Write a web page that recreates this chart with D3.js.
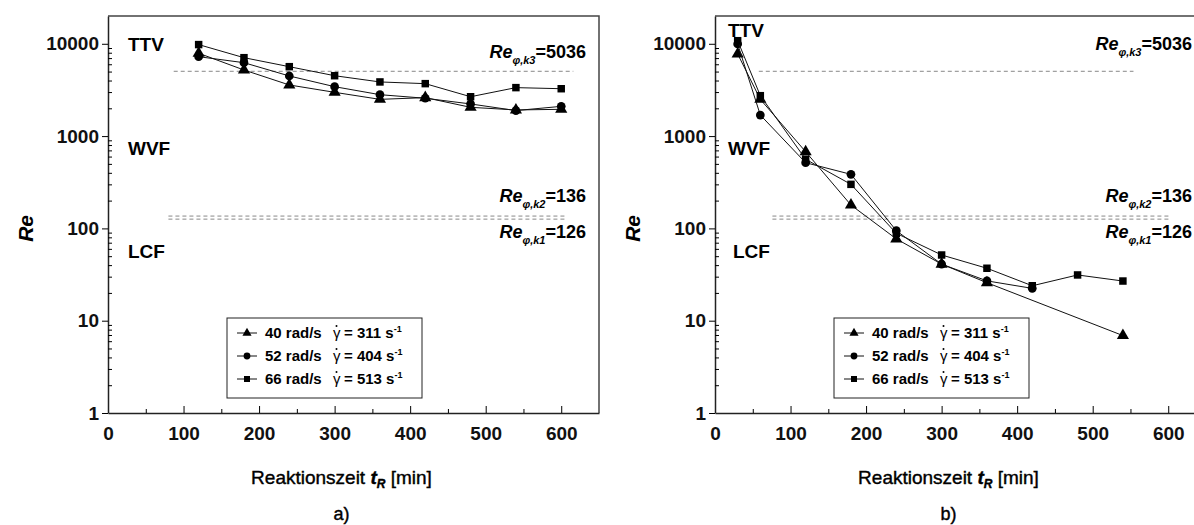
<!DOCTYPE html>
<html>
<head>
<meta charset="utf-8">
<script src="https://cdn.jsdelivr.net/npm/d3@7"></script>
<style>
  body { margin: 0; background: #fff; }
  svg { display: block; font-family: "Liberation Sans", Arial, sans-serif; }
</style>
</head>
<body>
<svg id="chart" width="1194" height="525"></svg>
<script>
// panel a) data
const timeA = [120, 180, 240, 300, 360, 420, 480, 540, 600];
const reA40 = [7900, 5200, 3580, 2980, 2500, 2610, 2050, 1920, 1950];
const reA52 = [7250, 6240, 4480, 3430, 2810, 2570, 2230, 1890, 2100];
const reA66 = [9800, 7070, 5650, 4510, 3860, 3700, 2670, 3350, 3260];

// panel b) data
const timeB40 = [30, 60, 120, 180, 240, 300, 360, 540];
const reB40 = [7760, 2500, 677, 179, 77, 41, 25.8, 6.9];
const timeB52 = [30, 60, 120, 180, 240, 300, 360, 420];
const reB52 = [9950, 1690, 515, 385, 94.5, 41, 27, 22.4];
const timeB66 = [30, 60, 120, 180, 240, 300, 360, 420, 480, 540];
const reB66 = [10800, 2740, 561, 300, 88.5, 51.5, 37, 23.9, 31.3, 26.9];

// critical Reynolds numbers
const critValues = [5036, 136, 126];
const critNames = ["k3", "k2", "k1"];

// legend
const speedLabels = ["40 rad/s", "52 rad/s", "66 rad/s"];
const shearLabels = ["311", "404", "513"];
const symbols = [d3.symbolTriangle, d3.symbolCircle, d3.symbolSquare];
const symbolSizes = [64, 60, 56];

const xTicks = [0, 100, 200, 300, 400, 500, 600];
const yTicks = [1, 10, 100, 1000, 10000];
const regions = ["TTV", "WVF", "LCF"];

const svg = d3.select("#chart");

function drawPanel(p) {
  const x = d3.scaleLinear().domain([0, 650]).range([p.left, p.left + 491]);
  const y = d3.scaleLog().domain([1, 20000]).range([413, 16]);
  const g = svg.append("g");

  // frame (top + right)
  g.append("path")
    .attr("d", `M${x(0)},${y(20000)}H${x(650)}V${y(1)}`)
    .attr("fill", "none").attr("stroke", "#444").attr("stroke-width", 1.5);

  // x axis
  const xAx = g.append("g").attr("transform", `translate(0,${y(1)})`)
    .call(d3.axisBottom(x).tickValues(xTicks).tickSizeInner(-7).tickSizeOuter(0).tickPadding(14));
  xAx.select(".domain").attr("stroke", "#222").attr("stroke-width", 1.5);
  xAx.selectAll("text").attr("font-size", 19).attr("font-weight", "bold").attr("fill", "#111");
  g.append("g").attr("transform", `translate(0,${y(1)})`)
    .call(d3.axisBottom(x).tickValues(d3.range(50, 650, 100)).tickSize(-4).tickFormat(""))
    .select(".domain").remove();

  // y axis
  const yAx = g.append("g").attr("transform", `translate(${x(0)},0)`)
    .call(d3.axisLeft(y).tickValues(yTicks).tickFormat(d3.format("d")).tickSizeInner(6).tickSizeOuter(0).tickPadding(3));
  yAx.select(".domain").attr("stroke", "#222").attr("stroke-width", 1.5);
  yAx.selectAll("text").attr("font-size", 19).attr("font-weight", "bold").attr("fill", "#111");
  const minors = [];
  for (let e = 0; e < 5; e++) for (let m = 2; m < 10; m++) if (m * 10 ** e < 20000) minors.push(m * 10 ** e);
  g.append("g").attr("transform", `translate(${x(0)},0)`)
    .call(d3.axisRight(y).tickValues(minors).tickSize(4).tickFormat(""))
    .select(".domain").remove();

  // axis titles
  g.append("text")
    .attr("transform", `translate(${p.left - 75},${y(100)}) rotate(-90)`)
    .attr("text-anchor", "middle").attr("font-size", 21).attr("font-weight", "bold")
    .attr("font-style", "italic").text("Re");
  const xt = g.append("text").attr("x", x(325) - 12).attr("y", 484)
    .attr("text-anchor", "middle").attr("font-size", 19)
    .attr("stroke", "#000").attr("stroke-width", 0.4);
  xt.append("tspan").text("Reaktionszeit ");
  xt.append("tspan").attr("font-style", "italic").attr("font-weight", "bold").text("t");
  xt.append("tspan").attr("font-style", "italic").attr("font-weight", "bold").attr("font-size", 12).attr("dy", 4).text("R");
  xt.append("tspan").attr("dy", -4).text(" [min]");
  g.append("text").attr("x", x(325) - 12).attr("y", 520).attr("text-anchor", "middle")
    .attr("font-size", 18).attr("stroke", "#000").attr("stroke-width", 0.4).text(p.tag);

  // regime labels
  g.selectAll(".reg").data(regions).join("text")
    .attr("x", (d, i) => p.regX[i]).attr("y", (d, i) => p.regY[i])
    .attr("font-size", 19).attr("font-weight", "bold").text(d => d);

  // critical lines
  critValues.forEach((v, i) => {
    g.append("line")
      .attr("x1", x(p.critFrom[i])).attr("x2", x(p.critTo[i]))
      .attr("y1", y(v)).attr("y2", y(v))
      .attr("stroke", "#888").attr("stroke-width", 1).attr("stroke-dasharray", "4,3");
    const t = g.append("text").attr("x", p.critLabelX).attr("y", p.critLabelY[i])
      .attr("text-anchor", "end").attr("font-size", 18).attr("font-weight", "bold");
    t.append("tspan").attr("font-style", "italic").text("Re");
    t.append("tspan").attr("font-style", "italic").attr("font-size", 11).attr("dy", 6).text("\u03c6," + critNames[i]);
    t.append("tspan").attr("dy", -6).text("=" + v);
  });

  // series
  const line = d3.line().x(d => x(d[0])).y(d => y(d[1]));
  p.series.forEach((s, k) => {
    const pts = d3.zip(s.t, s.re);
    g.append("path").datum(pts).attr("d", line)
      .attr("fill", "none").attr("stroke", "#111").attr("stroke-width", 1);
    g.selectAll(null).data(pts).join("path")
      .attr("transform", d => `translate(${x(d[0])},${y(d[1])})`)
      .attr("d", d3.symbol(symbols[k], symbolSizes[k]))
      .attr("fill", "#000");
  });

  // legend
  const lg = g.append("g").attr("transform", `translate(${p.legX},318)`);
  lg.append("rect").attr("width", 195).attr("height", 80)
    .attr("fill", "#fff").attr("stroke", "#222").attr("stroke-width", 1);
  speedLabels.forEach((lab, i) => {
    const cy = 15 + i * 23;
    lg.append("line").attr("x1", 10).attr("x2", 30).attr("y1", cy).attr("y2", cy)
      .attr("stroke", "#111");
    lg.append("path").attr("transform", `translate(20,${cy})`)
      .attr("d", d3.symbol(symbols[i], 36)).attr("fill", "#000");
    lg.append("text").attr("x", 38).attr("y", cy + 5).attr("font-size", 15)
      .attr("font-weight", "bold").text(lab);
    // gamma with dot above
    lg.append("text").attr("x", 106).attr("y", cy + 5).attr("font-size", 15).text("\u03b3");
    lg.append("circle").attr("cx", 109.5).attr("cy", cy - 7).attr("r", 1).attr("fill", "#000");
    const tt = lg.append("text").attr("x", 117).attr("y", cy + 5).attr("font-size", 15)
      .attr("font-weight", "bold");
    tt.append("tspan").text("= " + shearLabels[i] + " s");
    tt.append("tspan").attr("font-size", 9).attr("dy", -6).text("-1");
  });
}

drawPanel({
  left: 108, tag: "a)",
  series: [{ t: timeA, re: reA40 }, { t: timeA, re: reA52 }, { t: timeA, re: reA66 }],
  regX: [128, 128, 128], regY: [51, 155, 258],
  critFrom: [87, 80, 80], critTo: [616, 607, 607],
  critLabelX: 586, critLabelY: [58, 202, 238],
  legX: 227
});

drawPanel({
  left: 715, tag: "b)",
  series: [{ t: timeB40, re: reB40 }, { t: timeB52, re: reB52 }, { t: timeB66, re: reB66 }],
  regX: [728, 728, 733], regY: [37, 155, 258],
  critFrom: [58, 76, 76], critTo: [554, 604, 604],
  critLabelX: 1192, critLabelY: [50, 202, 238],
  legX: 834
});
</script>
</body>
</html>
